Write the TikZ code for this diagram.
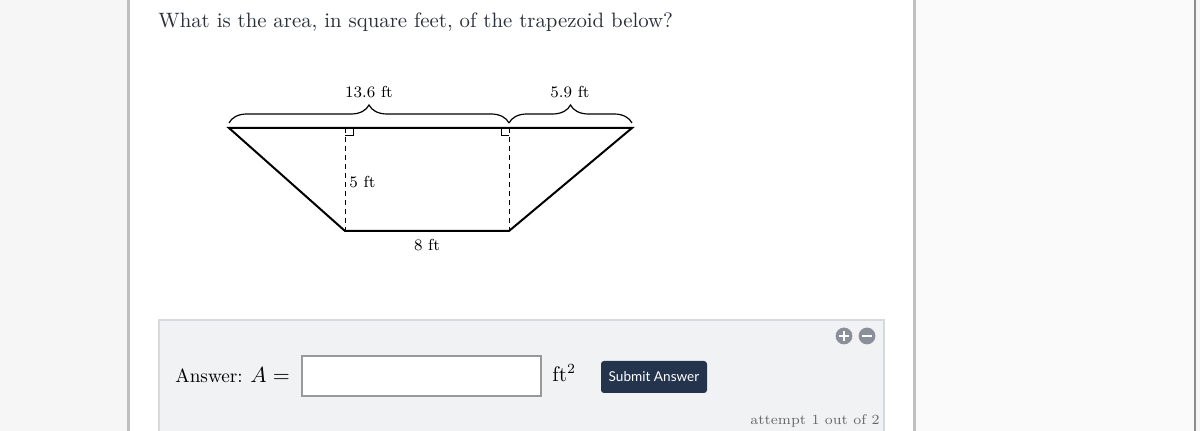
\documentclass[tikz,border=0pt]{standalone}
\usepackage{fontspec}
\newfontfamily\btnfont{Lato}
\usepackage[HTML]{xcolor}
\usepackage{tikz}
\usetikzlibrary{positioning, decorations.pathreplacing}

\definecolor{pagebg}{HTML}{F6F6F6}
\definecolor{inktext}{HTML}{2A3038}
\definecolor{boxfill}{HTML}{F1F2F4}
\definecolor{boxline}{HTML}{D8D9DC}
\definecolor{navybtn}{HTML}{23344C}
\definecolor{icongray}{HTML}{8A8F99}

\begin{document}
\begin{tikzpicture}[x=0.5pt,y=-0.5pt,
  lbl/.style={font=\fontsize{8}{10}\selectfont, text=black, inner sep=0pt},
  side/.style={line width=1pt, black},
  hgt/.style={line width=0.5pt, dash pattern=on 2.5pt off 2pt},
  curly/.style={decorate, decoration={brace, amplitude=9pt, aspect=0.5}, line width=0.6pt}]
\useasboundingbox (0,0) rectangle (1200,431);

% --- page ---
\fill[pagebg] (0,0) rectangle (1200,431);
\fill[white] (128,0) rectangle (914,431);
\draw[black!25, line width=1.5pt] (128,0) -- (128,431);
\draw[black!25, line width=1.5pt] (914,0) -- (914,431);
\fill[white!98!black] (916,0) rectangle (1194,431);
\draw[black!45, line width=1pt] (1195,0) -- (1195,431);

% --- question ---
\node[anchor=west, text=inktext, font=\fontsize{10.4}{13}\selectfont, inner sep=0pt] (quest) at (158,22) {What is the area, in square feet, of the trapezoid below?};

% --- trapezoid ---
\coordinate (tl) at (229,128);
\coordinate (tr) at (632,128);
\coordinate (bl) at (345,231);
\coordinate (br) at (509,231);
\coordinate (fl) at (345,128);
\coordinate (fr) at (509,128);
\draw[side] (tl) -- (tr) -- (br) -- (bl) -- cycle;
\draw[hgt] (fl) -- (bl);
\draw[hgt] (fr) -- (br);
\draw[line width=0.5pt] (345,136) -- (353,136) -- (353,128);
\draw[line width=0.5pt] (509,136) -- (501,136) -- (501,128);

% --- braces ---
\coordinate (b1) at (229,123);
\coordinate (b2) at (509,123);
\coordinate (b3) at (632,123);
\draw[curly] (b1) -- (b2);
\draw[curly] (b2) -- (b3);
\node[lbl] (longtop) at (369,92) {13.6 ft};
\node[lbl] (shorttop) at (570,92) {5.9 ft};
\node[lbl, anchor=west] (height) at (349,182) {5 ft};
\node[lbl] (base) at (427,245) {8 ft};

% --- answer box ---
\draw[fill=boxfill, draw=boxline, line width=0.6pt] (159,320) rectangle (884,440);
\node[anchor=west, inner sep=0pt, font=\fontsize{9.6}{12}\selectfont] (ans) at (175,376) {Answer:};
\node[anchor=west, inner sep=0pt, font=\fontsize{10.5}{12}\selectfont] (aeq) at (250,375) {$A=$};
\draw[fill=white, draw=black!40, line width=0.6pt] (302,356) rectangle (541,396);
\node[anchor=west, inner sep=0pt, font=\fontsize{10.5}{12}\selectfont] (unit) at (552,373) {ft$^2$};
\node[fill=navybtn, rounded corners=1.5pt, minimum width=53pt, minimum height=16pt, inner sep=0pt,
  text=white, font=\btnfont\fontsize{6.8}{8}\selectfont] (submit) at (654,377) {Submit Answer};

% --- zoom icons ---
\fill[icongray] (844,336) circle (4.2pt);
\fill[icongray] (867,336) circle (4.2pt);
\draw[white, line width=1.3pt] (839,336) -- (849,336) (844,331) -- (844,341);
\draw[white, line width=1.3pt] (862,336) -- (872,336);

\node[anchor=east, inner sep=0pt, text=black!60, font=\fontsize{7}{9}\selectfont] (attempt) at (880,421) {attempt 1 out of 2};
\end{tikzpicture}
\end{document}
